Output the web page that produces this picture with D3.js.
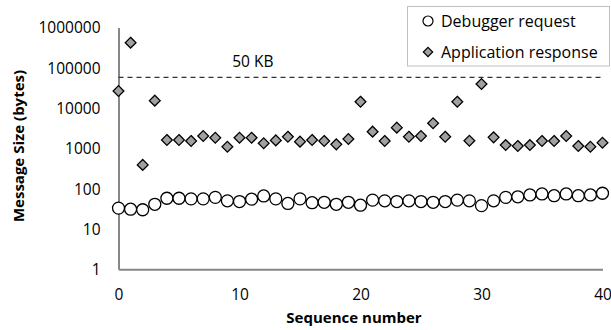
<!DOCTYPE html>
<html>
<head>
<meta charset="utf-8">
<script src="https://cdn.jsdelivr.net/npm/d3@7"></script>
<style>
  body { margin: 0; background: #fff; }
  svg { font-family: "Open Sans", sans-serif; }
</style>
</head>
<body>
<div id="chart"></div>
<script>
// values (sequence numbers 0..40)
const sequence = d3.range(0, 41);
const debuggerRequest = [
  33, 31, 30, 41, 58, 58, 56, 56, 61, 50,
  48, 55, 66, 56, 43, 56, 45, 46, 41, 46,
  39, 52, 50, 48, 50, 48, 46, 48, 52, 50,
  38, 50, 61, 63, 70, 74, 67, 74, 67, 70, 77
];
const appResponse = [
  26600, 420000, 390, 15300, 1620, 1620, 1530, 2030, 1840, 1100,
  1840, 1840, 1340, 1580, 1950, 1470, 1620, 1530, 1260, 1710,
  14400, 2600, 1530, 3270, 1950, 2030, 4200, 1950, 14400, 1550,
  39600, 1880, 1210, 1150, 1210, 1530, 1530, 2030, 1150, 1100, 1380
];
const limitValue = 58000;
const limitLabel = '50 KB';
const xTicks = [0, 10, 20, 30, 40];
const yTicks = [1, 10, 100, 1000, 10000, 100000, 1000000];
const seriesNames = ['Debugger request', 'Application response'];

const width = 611, height = 330;
const margin = { left: 118.5, right: 8.5, top: 27.5, bottom: 60.7 };

const svg = d3.select('#chart').append('svg')
  .attr('width', width)
  .attr('height', height);

const x = d3.scaleLinear()
  .domain([0, 40])
  .range([margin.left, width - margin.right]);

const y = d3.scaleLog()
  .domain([1, 1000000])
  .range([height - margin.bottom, margin.top]);

// axes: plain gray lines, no tick marks
const xAxis = svg.append('g')
  .attr('transform', `translate(0,${height - margin.bottom})`)
  .call(d3.axisBottom(x).tickValues(xTicks).tickSize(0).tickPadding(18).tickFormat(d3.format('d')));
const yAxis = svg.append('g')
  .attr('transform', `translate(${margin.left},0)`)
  .call(d3.axisLeft(y).tickValues(yTicks).tickSize(0).tickPadding(18).tickFormat(d3.format('d')));

[xAxis, yAxis].forEach(a => {
  a.select('.domain').attr('stroke', '#878787').attr('stroke-width', 2);
  a.selectAll('text')
    .attr('font-family', '"Open Sans", sans-serif')
    .attr('font-size', 15.5)
    .attr('fill', '#000');
});
xAxis.selectAll('text').attr('dy', '0.35em').attr('y', 25.5);
yAxis.selectAll('text').attr('dy', '0.35em');

// 50 KB reference line
svg.append('line')
  .attr('x1', margin.left)
  .attr('x2', x(40) + 2)
  .attr('y1', y(limitValue))
  .attr('y2', y(limitValue))
  .attr('stroke', '#333')
  .attr('stroke-width', 1.2)
  .attr('stroke-dasharray', '5,4');

svg.append('text')
  .attr('x', x(11.1))
  .attr('y', y(limitValue) - 10.5)
  .attr('text-anchor', 'middle')
  .attr('font-size', 15.5)
  .text(limitLabel);

// application responses (diamonds)
const diamond = d3.symbol().type(d3.symbolDiamond2).size(74);
svg.append('g').selectAll('path')
  .data(sequence)
  .join('path')
  .attr('d', diamond)
  .attr('transform', i => `translate(${x(i)},${y(appResponse[i])})`)
  .attr('fill', '#a0a0a0')
  .attr('stroke', '#000')
  .attr('stroke-width', 1.3);

// debugger requests (open circles)
svg.append('g').selectAll('circle')
  .data(sequence)
  .join('circle')
  .attr('cx', i => x(i))
  .attr('cy', i => y(debuggerRequest[i]))
  .attr('r', 6)
  .attr('fill', '#fff')
  .attr('stroke', '#000')
  .attr('stroke-width', 1.3);

// axis titles
svg.append('text')
  .attr('x', 354)
  .attr('y', 318)
  .attr('dy', '0.35em')
  .attr('text-anchor', 'middle')
  .attr('font-size', 15)
  .attr('font-weight', 'bold')
  .text('Sequence number');

svg.append('text')
  .attr('transform', `translate(19,146) rotate(-90)`)
  .attr('dy', '0.35em')
  .attr('text-anchor', 'middle')
  .attr('font-size', 15)
  .attr('font-weight', 'bold')
  .text('Message Size (bytes)');

// legend
const legend = svg.append('g');
legend.append('rect')
  .attr('x', 407.5)
  .attr('y', 6.5)
  .attr('width', 202)
  .attr('height', 59.5)
  .attr('fill', '#fff')
  .attr('stroke', '#bfbfbf')
  .attr('stroke-width', 1);

const legendY = [21, 52];
legend.append('circle')
  .attr('cx', 428).attr('cy', legendY[0]).attr('r', 5)
  .attr('fill', '#fff').attr('stroke', '#000').attr('stroke-width', 1.2);
legend.append('path')
  .attr('d', d3.symbol().type(d3.symbolDiamond2).size(56))
  .attr('transform', `translate(428,${legendY[1]})`)
  .attr('fill', '#a0a0a0').attr('stroke', '#000').attr('stroke-width', 1.2);

legend.selectAll('text.item')
  .data(seriesNames)
  .join('text')
  .attr('class', 'item')
  .attr('x', 441)
  .attr('y', (d, i) => legendY[i])
  .attr('dy', '0.35em')
  .attr('font-size', 16)
  .text(d => d);
</script>
</body>
</html>
